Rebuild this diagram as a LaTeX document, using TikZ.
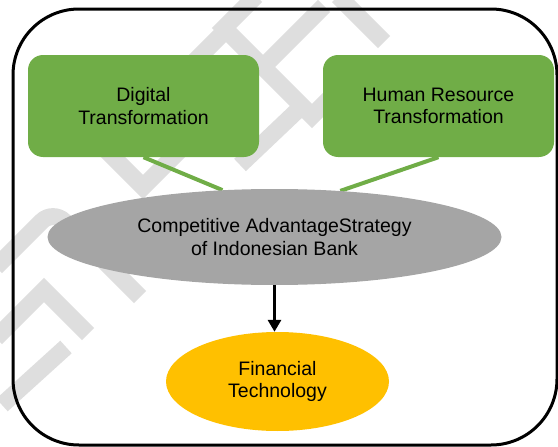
\documentclass[tikz,border=0pt]{standalone}
\usepackage{fontspec}
\setmainfont{Liberation Sans}
\usetikzlibrary{arrows.meta,shapes.geometric,backgrounds}

\definecolor{boxgreen}{HTML}{70AD47}
\definecolor{ovalgray}{HTML}{A5A5A5}
\definecolor{ovalgold}{HTML}{FFC000}
\definecolor{wmgray}{HTML}{DEDEDE}

\begin{document}
\begin{tikzpicture}[x=1pt,y=-1pt,
  labelfont/.style={font=\fontsize{19.5}{22.5}\selectfont, text=black},
  greenbox/.style={labelfont, draw=none, fill=boxgreen, rounded corners=15pt,
    minimum width=231pt, minimum height=102pt, align=center, inner sep=0pt},
  oval/.style={labelfont, ellipse, draw=none, align=center, inner sep=0pt},
  link/.style={draw=boxgreen, line width=4pt},
  flow/.style={draw=black, line width=3pt, -{Triangle[length=12pt,width=13pt]}},
  wmband/.style={draw=wmgray, line width=17pt, line join=miter},
  frame/.style={draw=black, line width=3pt, rounded corners=66pt}
]
\useasboundingbox (0,0) rectangle (558,447);

% boxes and ovals
\node[greenbox] (dt) at (143.5,106) {Digital\\Transformation};
\node[greenbox] (hr) at (438.5,106) {Human Resource\\Transformation};
\node[oval, fill=ovalgray, minimum width=454pt, minimum height=96pt] (cas) at (274.5,237)
  {Competitive AdvantageStrategy\\of Indonesian Bank};
\node[oval, fill=ovalgold, minimum width=223pt, minimum height=99pt] (fin) at (277.5,381.5)
  {Financial\\Technology};

\begin{pgfonlayer}{background}
  % faint diagonal lettering behind the diagram
  \draw[wmband] (256,-4) -- (224,28) -- (312,116) -- (362,66);
  \draw[wmband] (263,67) -- (324,6);
  \draw[wmband] (338,-4) -- (384,42);
  \draw[wmband] (192,64) -- (222,34);
  \draw[wmband] (92,136) -- (143,187) -- (185,145);
  \draw[wmband] (240,165) -- (300,108);
  \draw[wmband, rounded corners=16pt] (-4,267) -- (53,210) -- (140,297);
  \draw[wmband] (-4,338) -- (44,290) -- (88,334);
  \draw[wmband] (2,405) -- (66,347);
  % green links into the strategy oval
  \draw[link] (dt.south) -- (cas.138);
  \draw[link] (hr.south) -- (cas.35);
\end{pgfonlayer}

\draw[flow] (cas.south) -- (cas.south |- fin.north);

% outer frame
\draw[frame] (13,9) rectangle (557,445);
\end{tikzpicture}
\end{document}
